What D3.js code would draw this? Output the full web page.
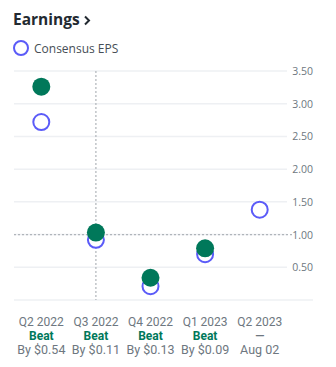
<!DOCTYPE html>
<html>
<head>
<meta charset="utf-8">
<script src="https://cdn.jsdelivr.net/npm/d3@7"></script>
<style>
  body { margin: 0; background: #fff; font-family: "Open Sans", "Noto Sans", sans-serif; }
  svg { display: block; }
  .qlabel text { font-family: Roboto, "Liberation Sans", sans-serif; }
</style>
</head>
<body>
<div id="chart"></div>
<script>
var quarters = ["Q2 2022", "Q3 2022", "Q4 2022", "Q1 2023", "Q2 2023"];
var estimates = [2.72, 0.92, 0.21, 0.70, 1.38];
var actuals = [3.26, 1.03, 0.34, 0.79, null];
var results = ["Beat", "Beat", "Beat", "Beat", "—"];
var notes = ["By $0.54", "By $0.11", "By $0.13", "By $0.09", "Aug 02"];
var yTicks = [0.5, 1.0, 1.5, 2.0, 2.5, 3.0, 3.5];

var width = 336, height = 367;
var green = "#00785a", blue = "#5b5bf8", grey = "#6e7780";

var svg = d3.select("#chart").append("svg")
    .attr("width", width)
    .attr("height", height);

// header
svg.append("text")
    .attr("x", 13).attr("y", 25)
    .style("font-size", "15.5px")
    .style("font-weight", "bold")
    .style("fill", "#232a31")
    .text("Earnings");
svg.append("path")
    .attr("d", "M85,16.5 L89,20.5 L85,24.5")
    .attr("fill", "none")
    .attr("stroke", "#232a31")
    .attr("stroke-width", 2);

svg.append("circle")
    .attr("cx", 21).attr("cy", 48).attr("r", 7)
    .attr("fill", "none").attr("stroke", blue).attr("stroke-width", 2);
svg.append("text")
    .attr("x", 34).attr("y", 52.5)
    .style("font-size", "12px")
    .style("fill", "#464e56")
    .text("Consensus EPS");

var x = d3.scaleBand().domain(quarters).range([14, 287]);
var y = d3.scaleLinear().domain([0, 3.5]).range([300, 71]);

// grid + right axis labels
svg.selectAll(".grid").data(yTicks).enter().append("line")
    .attr("class", "grid")
    .attr("x1", 14).attr("x2", 287)
    .attr("y1", function(d){ return y(d); })
    .attr("y2", function(d){ return y(d); })
    .attr("stroke", "#eef0f3")
    .attr("stroke-width", 1.5);

svg.append("line")
    .attr("x1", 14).attr("x2", 313)
    .attr("y1", y(0)).attr("y2", y(0))
    .attr("stroke", "#eef0f3")
    .attr("stroke-width", 1.5);

svg.selectAll(".ytick").data(yTicks).enter().append("text")
    .attr("class", "ytick")
    .attr("x", 313)
    .attr("y", function(d){ return y(d) + 4; })
    .attr("text-anchor", "end")
    .style("font-size", "10.5px")
    .style("fill", grey)
    .text(function(d){ return d3.format(".2f")(d); });

// crosshair
var hover = 1;
var cx = x(quarters[hover]) + x.bandwidth() / 2;
svg.append("line")
    .attr("x1", cx).attr("x2", cx)
    .attr("y1", y(3.5)).attr("y2", y(0))
    .attr("stroke", "#b0b5ba").attr("stroke-width", 1.2)
    .attr("stroke-dasharray", "2,2");
svg.append("line")
    .attr("x1", 14).attr("x2", 292)
    .attr("y1", y(1.0)).attr("y2", y(1.0))
    .attr("stroke", "#b0b5ba").attr("stroke-width", 1.2)
    .attr("stroke-dasharray", "2,2");

// points
svg.selectAll(".est").data(estimates).enter().append("circle")
    .attr("class", "est")
    .attr("cx", function(d, i){ return x(quarters[i]) + x.bandwidth() / 2; })
    .attr("cy", function(d){ return y(d); })
    .attr("r", 8)
    .attr("fill", "#fff")
    .attr("stroke", blue)
    .attr("stroke-width", 2);

svg.selectAll(".act").data(actuals.filter(function(d){ return d != null; })).enter().append("circle")
    .attr("class", "act")
    .attr("cx", function(d, i){ return x(quarters[i]) + x.bandwidth() / 2; })
    .attr("cy", function(d){ return y(d); })
    .attr("r", 9)
    .attr("fill", green);

// bottom labels
var labels = svg.selectAll(".qlabel").data(quarters).enter().append("g")
    .attr("class", "qlabel")
    .attr("transform", function(d){ return "translate(" + (x(d) + x.bandwidth() / 2) + ",0)"; });

labels.append("text")
    .attr("y", 326)
    .attr("text-anchor", "middle")
    .style("font-size", "12px")
    .style("fill", grey)
    .text(function(d){ return d; });
labels.append("text")
    .attr("y", 339.5)
    .attr("text-anchor", "middle")
    .style("font-size", "12px")
    .style("font-weight", "bold")
    .style("fill", function(d, i){ return results[i] == "Beat" ? green : grey; })
    .text(function(d, i){ return results[i]; });
labels.append("text")
    .attr("y", 353.5)
    .attr("text-anchor", "middle")
    .style("font-size", "12.5px")
    .style("fill", grey)
    .text(function(d, i){ return notes[i]; });
</script>
</body>
</html>
